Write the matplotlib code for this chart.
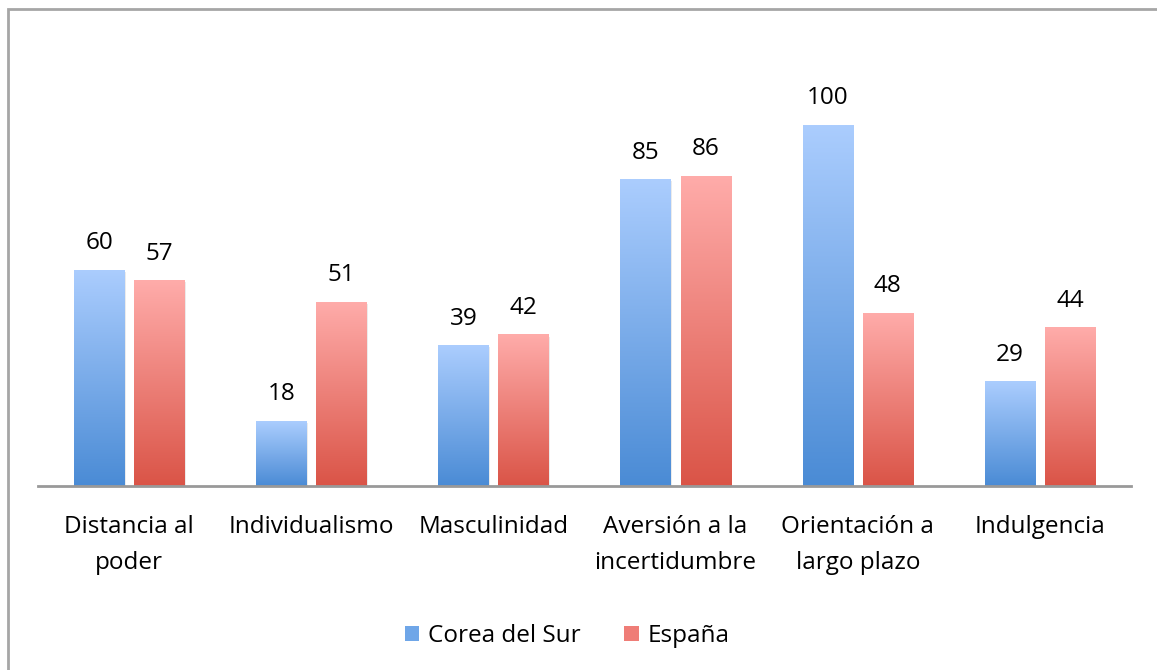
import numpy as np
import matplotlib.pyplot as plt
from matplotlib.colors import LinearSegmentedColormap
from matplotlib.patches import Rectangle

plt.rcParams['font.family'] = ['Open Sans', 'DejaVu Sans']

# Datos
categorias = ["Distancia al\npoder", "Individualismo", "Masculinidad",
              "Aversión a la\nincertidumbre", "Orientación a\nlargo plazo", "Indulgencia"]
corea = [60, 18, 39, 85, 100, 29]
espana = [57, 51, 42, 86, 48, 44]
series = ["Corea del Sur", "España"]

azul = LinearSegmentedColormap.from_list("azul", ["#4a8bd5", "#abcdfe"])
rojo = LinearSegmentedColormap.from_list("rojo", ["#da5447", "#ffacaa"])

fs = 17.5

fig = plt.figure(figsize=(11.57, 6.70), dpi=100)
ax = fig.add_axes([38 / 1157, (670 - 486) / 670, (1131 - 38) / 1157, (486 - 53) / 670])

x = np.arange(len(categorias))
ancho = 0.275
desp = 0.165
grad = np.linspace(0, 1, 256).reshape(-1, 1)

for vals, dx, cmap in [(corea, -desp, azul), (espana, desp, rojo)]:
    bars = ax.bar(x + dx, vals, ancho, color="none", zorder=2)
    for b, v in zip(bars, vals):
        x0 = b.get_x()
        # sombra suave
        ax.add_patch(Rectangle((x0 + 0.008, 0), ancho, v - 0.6, color="#000000",
                               alpha=0.08, zorder=1, lw=0))
        im = ax.imshow(grad, cmap=cmap, aspect="auto", origin="lower",
                       extent=(x0, x0 + ancho, 0, v), zorder=2)
        im.set_clip_path(b)
        ax.text(b.get_x() + ancho / 2, v + 7.4, str(v), ha="center", va="center",
                fontsize=fs)

ax.set_xlim(-0.5, len(categorias) - 0.5)
ax.set_ylim(0, 120)
ax.set_xticks(x)
ax.set_xticklabels(categorias, fontsize=fs, linespacing=1.65)
ax.tick_params(axis="x", length=0, pad=21)
ax.set_yticks([])
for s in ["top", "right", "left"]:
    ax.spines[s].set_visible(False)
ax.spines["bottom"].set_color("#999999")
ax.spines["bottom"].set_linewidth(2)

# leyenda
handles = [Rectangle((0, 0), 1, 1, facecolor=c) for c in ["#6fa6e8", "#ef7d77"]]
fig.legend(handles, series, loc="center", bbox_to_anchor=(0.49, 1 - 636 / 670),
           ncol=2, frameon=False, fontsize=fs, handlelength=0.6, handleheight=0.6,
           handletextpad=0.35, columnspacing=1.8)

# borde
fig.add_artist(Rectangle((8 / 1157, -0.1), 1.2, 1 - 9 / 670 + 0.1, transform=fig.transFigure,
                         fill=False, edgecolor="#a6a6a6", lw=2))

fig.savefig("out.png", dpi=100)
